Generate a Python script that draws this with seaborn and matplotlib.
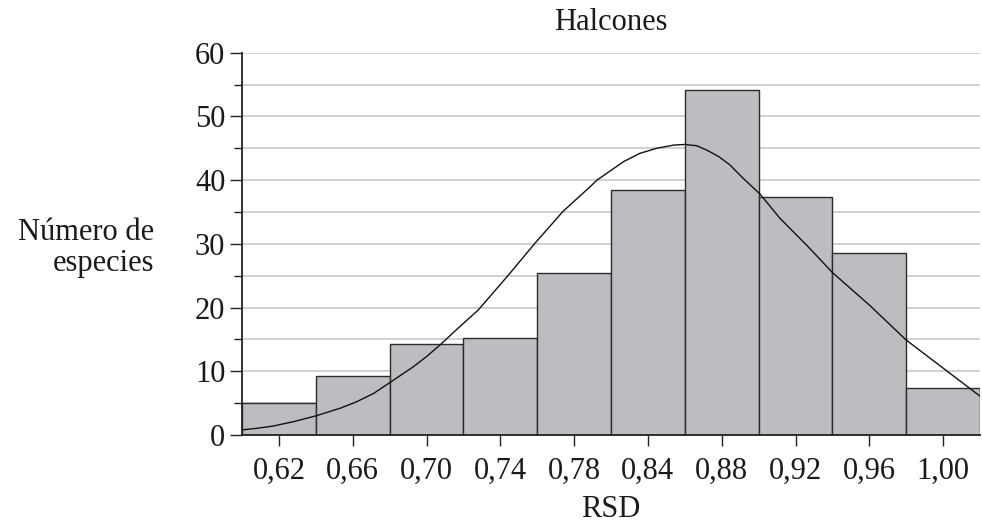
import matplotlib
matplotlib.use("Agg")
import matplotlib.pyplot as plt
import seaborn as sns
import pandas as pd
from matplotlib.ticker import MultipleLocator

# ---- data ----
bin_labels = ["0,62", "0,66", "0,70", "0,74", "0,78", "0,84", "0,88", "0,92", "0,96", "1,00"]
counts = [5.0, 9.2, 14.3, 15.2, 25.4, 38.5, 54.2, 37.4, 28.5, 7.4]

# fitted curve (position in bar units, value)
curve_pos = [-0.5, -0.3, -0.08, 0.2, 0.5, 0.83, 1.05, 1.28, 1.5, 1.82, 2.0, 2.18,
             2.45, 2.70, 3.11, 3.47, 3.85, 4.22, 4.31, 4.67, 4.89, 5.12, 5.35, 5.5,
             5.66, 5.8, 5.96, 6.11, 6.29, 6.52, 6.79, 7.15, 7.33, 7.5, 8.01, 8.5,
             9.0, 9.5]
curve_val = [0.8, 1.05, 1.4, 2.1, 3.0, 4.2, 5.2, 6.5, 8.2, 10.7, 12.3, 14.1,
             17.0, 19.6, 25.1, 30.1, 35.1, 39.0, 40.0, 42.9, 44.2, 45.0, 45.5, 45.6,
             45.4, 44.7, 43.7, 42.4, 40.3, 37.8, 34.0, 29.8, 27.6, 25.5, 20.3, 14.9,
             10.5, 6.1]

title = "Halcones"
xlabel = "RSD"
ylabel = "Número de\nespecies"

# ---- style ----
sns.set_theme(style="white")
plt.rcParams["font.family"] = ["Liberation Serif", "DejaVu Serif"]
plt.rcParams["axes.unicode_minus"] = False

FS = 22
TXT = "#1a1a1a"

fig = plt.figure(figsize=(9.82, 5.27), dpi=100)
ax = fig.add_axes([242 / 982, 1 - 435 / 527, (980 - 242) / 982, (435 - 52.7) / 527])

df = pd.DataFrame({"bin": bin_labels, "n": counts})
sns.barplot(data=df, x="bin", y="n", order=bin_labels, width=1.0, color="#bcbdc1",
            saturation=1, edgecolor="#2b2b2b", linewidth=1.0, ax=ax, zorder=2)

cdf = pd.DataFrame({"p": curve_pos, "v": curve_val})
sns.lineplot(data=cdf, x="p", y="v", sort=False, estimator=None, color="#111111",
             linewidth=1.0, ax=ax, zorder=3)

ax.set_xlim(-0.5, 9.5)
ax.set_ylim(0, 60)
ax.yaxis.set_major_locator(MultipleLocator(10))
ax.yaxis.set_minor_locator(MultipleLocator(5))
ax.set_axisbelow(True)
ax.grid(False)
ax.yaxis.grid(True, which="both", color="#c8c8c8", linewidth=1.2, zorder=0)

for s in ["top", "right"]:
    ax.spines[s].set_visible(False)
for s in ["left", "bottom"]:
    ax.spines[s].set_color("#222222")
    ax.spines[s].set_linewidth(1.3)

ax.tick_params(axis="y", which="major", direction="out", length=8.5, width=1.0,
               color="#222222", labelsize=FS, pad=3.5, left=True)
ax.tick_params(axis="y", which="minor", direction="out", length=6, width=1.0,
               color="#222222", left=True)
ax.tick_params(axis="x", which="major", direction="out", length=8, width=1.0,
               color="#222222", labelsize=FS, pad=7.5, bottom=True)
ax.set_xticks(range(len(bin_labels)))
ax.set_xticklabels(bin_labels)
for t in ax.get_xticklabels() + ax.get_yticklabels():
    t.set_color(TXT)

ax.set_xlabel(xlabel, fontsize=FS, color=TXT, labelpad=7)
ax.set_ylabel("")
ax.set_title(title, fontsize=FS, color=TXT, pad=16)

fig.text(154 / 982, 1 - 248 / 527, ylabel, ha="right", va="center",
         multialignment="right", fontsize=FS, color=TXT, linespacing=1.12)

fig.savefig("out.png", dpi=100)
